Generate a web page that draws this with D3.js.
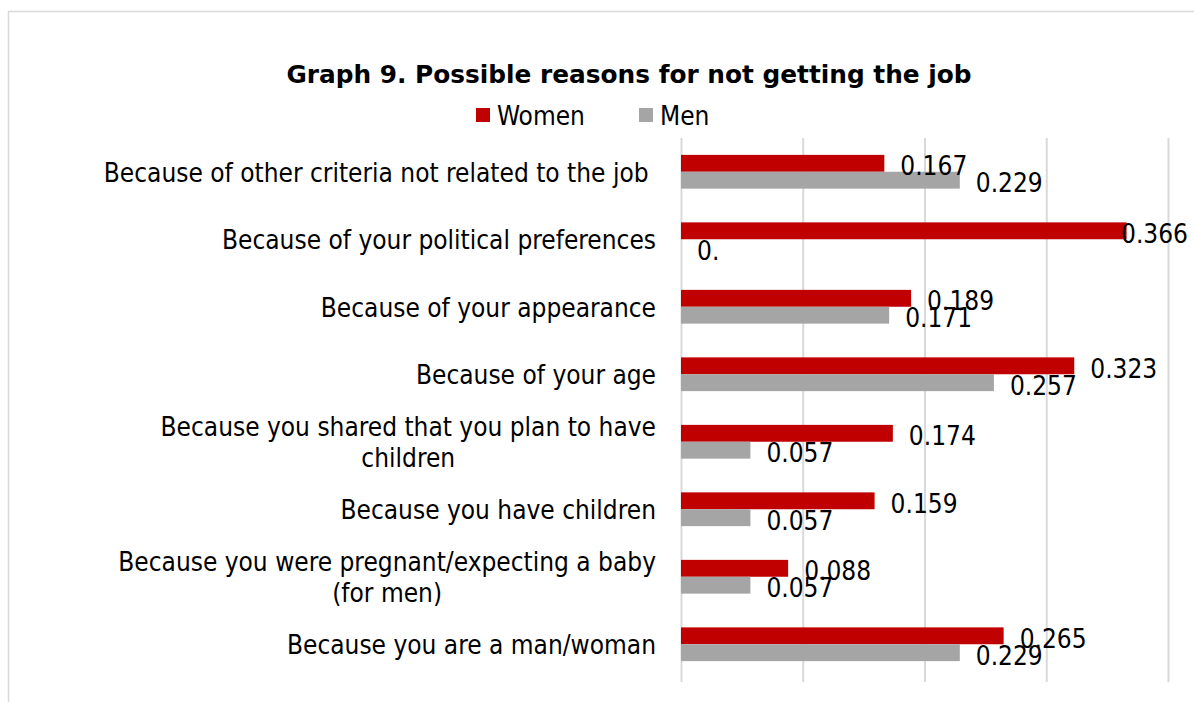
<!DOCTYPE html>
<html>
<head>
<meta charset="utf-8">
<script src="https://cdn.jsdelivr.net/npm/d3@7"></script>
<style>
  html, body { margin: 0; padding: 0; background: #fff; }
  svg { display: block; }
</style>
</head>
<body>
<svg id="chart" width="1194" height="702"></svg>
<script>
// ---- data ----
const categories = [
  ["Because of other criteria not related to the job "],
  ["Because of your political preferences"],
  ["Because of your appearance"],
  ["Because of your age"],
  ["Because you shared that you plan to have", "children"],
  ["Because you have children"],
  ["Because you were pregnant/expecting a baby", "(for men)"],
  ["Because you are a man/woman"]
];
const seriesNames = ["Women", "Men"];
const women = [0.167, 0.366, 0.189, 0.323, 0.174, 0.159, 0.088, 0.265];
const men   = [0.229, 0,     0.171, 0.257, 0.057, 0.057, 0.057, 0.229];
const womenLabels = ["0.167", "0.366", "0.189", "0.323", "0.174", "0.159", "0.088", "0.265"];
const menLabels   = ["0.229", "0.",    "0.171", "0.257", "0.057", "0.057", "0.057", "0.229"];
const xTicks = [0, 0.1, 0.2, 0.3, 0.4];
const title = "Graph 9. Possible reasons for not getting the job";

const colors = { Women: "#C00000", Men: "#A5A5A5" };
const labelFont = "'DejaVu Sans Condensed', 'DejaVu Sans', sans-serif";

const svg = d3.select("#chart");

// frame
svg.append("rect")
  .attr("x", 8.5).attr("y", 11.5)
  .attr("width", 1300).attr("height", 800)
  .attr("fill", "#fff").attr("stroke", "#d9d9d9").attr("stroke-width", 1.5);

const plot = { left: 681, right: 1168, top: 138, bottom: 678 };

const x = d3.scaleLinear().domain([0, 0.4]).range([plot.left, plot.right]);
const y = d3.scaleBand()
  .domain(d3.range(categories.length))
  .range([plot.top, plot.bottom])
  .paddingInner(0.5).paddingOuter(0.25);
const ySub = d3.scaleBand().domain(seriesNames).range([0, y.bandwidth()]);

// gridlines via axis
const grid = svg.append("g")
  .attr("transform", `translate(0,${plot.top})`)
  .call(d3.axisBottom(x).tickValues(xTicks).tickSize(plot.bottom - plot.top + 4).tickFormat(""));
grid.select(".domain").remove();
grid.selectAll(".tick line").attr("stroke", "#d9d9d9").attr("stroke-width", 2);

// title
svg.append("text")
  .attr("x", 629).attr("y", 83)
  .attr("text-anchor", "middle")
  .attr("font-family", "'DejaVu Sans', Verdana, sans-serif")
  .attr("font-weight", "bold")
  .attr("font-size", 24.8)
  .attr("fill", "#000")
  .text(title);

// legend
const legendItems = [
  { name: "Women", sx: 476, tx: 497 },
  { name: "Men", sx: 639, tx: 660 }
];
const lg = svg.append("g");
lg.selectAll("rect").data(legendItems).join("rect")
  .attr("x", d => d.sx).attr("y", 108).attr("width", 14).attr("height", 14)
  .attr("fill", d => colors[d.name]);
lg.selectAll("text").data(legendItems).join("text")
  .attr("x", d => d.tx).attr("y", 125)
  .attr("font-family", labelFont).attr("font-size", 26).attr("fill", "#000")
  .text(d => d.name);

// category labels (multi-line blocks are right-aligned, lines centred within block)
const catG = svg.append("g");
const labelRight = 656;
categories.forEach((lines, i) => {
  const cy = y(i) + y.bandwidth() / 2;
  const lh = 31;
  const t = catG.append("text")
    .attr("font-family", labelFont)
    .attr("font-size", 26)
    .attr("fill", "#000")
    .attr("xml:space", "preserve");
  const spans = lines.map((ln, j) => {
    const off = (j - (lines.length - 1) / 2) * lh;
    return t.append("tspan")
      .attr("y", cy + off + 10)
      .text(ln);
  });
  if (lines.length === 1) {
    t.attr("text-anchor", "end");
    spans[0].attr("x", labelRight);
  } else {
    const maxW = d3.max(spans, s => s.node().getComputedTextLength());
    t.attr("text-anchor", "middle");
    spans.forEach(s => s.attr("x", labelRight - maxW / 2));
  }
});

// bars
const data = categories.map((c, i) => ({
  i,
  vals: [
    { s: "Women", v: women[i], label: womenLabels[i] },
    { s: "Men", v: men[i], label: menLabels[i] }
  ]
}));

const groups = svg.append("g").selectAll("g").data(data).join("g")
  .attr("transform", d => `translate(0,${y(d.i)})`);

groups.selectAll("rect").data(d => d.vals).join("rect")
  .attr("x", x(0))
  .attr("y", d => ySub(d.s))
  .attr("width", d => x(d.v) - x(0))
  .attr("height", ySub.bandwidth())
  .attr("fill", d => colors[d.s]);

groups.selectAll("text").data(d => d.vals).join("text")
  .attr("font-family", labelFont)
  .attr("font-size", 26)
  .attr("fill", "#000")
  .attr("y", d => ySub(d.s) + ySub.bandwidth() / 2 + 12)
  .text(d => d.label)
  .each(function(d) {
    const w = this.getComputedTextLength();
    let lx = x(d.v) + 16;
    if (lx + w > 1188) lx = 1188 - w;
    d3.select(this).attr("x", lx);
  });
</script>
</body>
</html>
